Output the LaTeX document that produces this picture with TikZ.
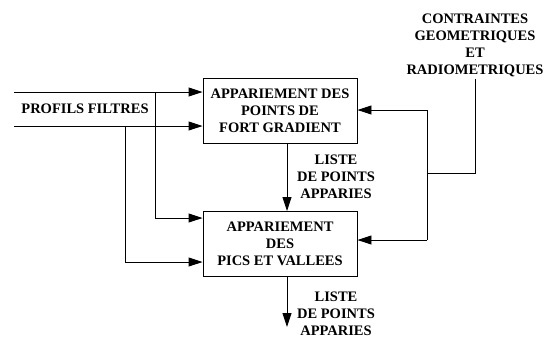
\documentclass[tikz,border=0pt]{standalone}
\usepackage{fontspec}
\setmainfont{Liberation Serif}
\usetikzlibrary{arrows.meta}

\begin{document}
\begin{tikzpicture}[x=1pt, y=-1pt, line width=0.9pt,
		font=\fontsize{14.5}{17}\selectfont\bfseries,
		box/.style={draw, minimum width=154pt, minimum height=65pt, inner sep=2pt, align=center},
		txt/.style={align=center, inner sep=2pt},
		arr/.style={-{Triangle[length=14pt, width=9pt]}}]
			\useasboundingbox (0,0) rectangle (551,338);
			
			\node[box] (fort) at (280,110.5) {APPARIEMENT DES\\POINTS DE\\FORT GRADIENT};
			\node[box] (pics) at (280,244) {APPARIEMENT\\DES\\PICS ET VALLEES};
			
			\node[txt] (profils) at (85,109) {PROFILS FILTRES};
			\node[txt] (contr) at (475,45) {CONTRAINTES\\GEOMETRIQUES\\ET\\RADIOMETRIQUES};
			\node[txt] (liste1) at (336,177) {LISTE\\DE POINTS\\APPARIES};
			\node[txt] (liste2) at (336,314) {LISTE\\DE POINTS\\APPARIES};
			
			\coordinate (in1) at (14,92);
			\coordinate (in2) at (14,126);
			\coordinate (j1) at (155,92);
			\coordinate (j2) at (125,126);
			\coordinate (c1) at (475,173);
			\coordinate (b0) at (427,173);
			\coordinate (b1) at (427,110);
			\coordinate (b2) at (427,240);
			\coordinate (out) at (287,327);
			
			\draw[arr] (in1) -- (in1 -| fort.west);
			\draw[arr] (in2) -- (in2 -| fort.west);
			\draw[arr] (j1) |- ([yshift=26pt]pics.west);
			\draw[arr] (j2) |- ([yshift=-18pt]pics.west);
			
			\draw (contr.south) -- (c1) -- (b0);
			\draw (b1) -- (b2);
			\draw[arr] (b1) -- (b1 -| fort.east);
			\draw[arr] (b2) -- (b2 -| pics.east);
			
			\draw[arr] ([xshift=7pt]fort.south) -- ([xshift=7pt]pics.north);
			\draw[arr] ([xshift=7pt]pics.south) -- (out);
		\end{tikzpicture}
\end{document}
